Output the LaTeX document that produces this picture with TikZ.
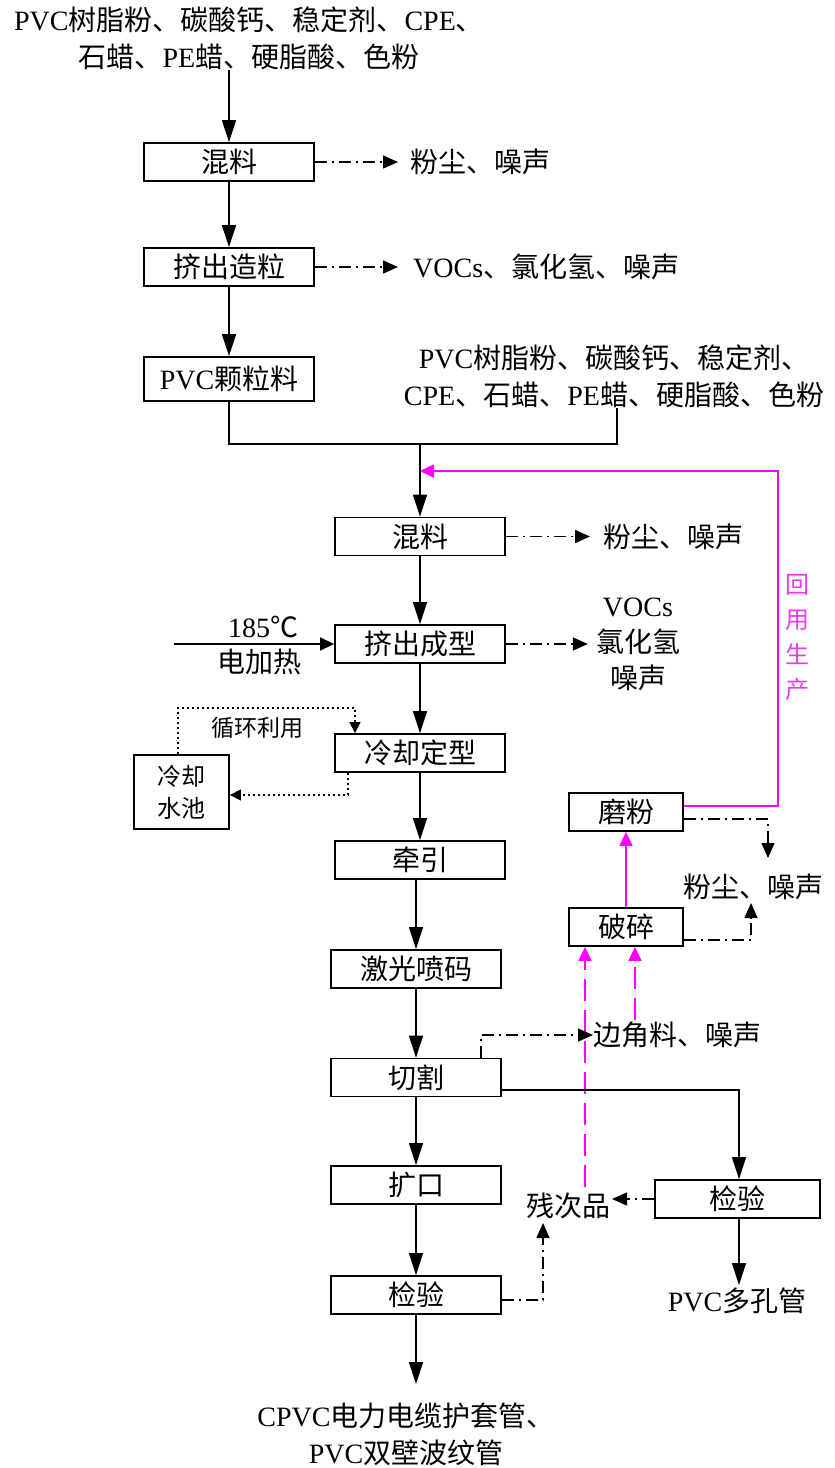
\documentclass[tikz,border=0pt]{standalone}
\usepackage{fontspec}
\setmainfont{Noto Sans CJK SC}
\newfontfamily\tm{Liberation Serif}
\usetikzlibrary{arrows.meta}
\newcommand\lat[1]{{\tm #1}}
\newcommand\fsA{\fontsize{28}{37}\selectfont}
\newcommand\fsB{\fontsize{23}{32}\selectfont}
\definecolor{mag}{RGB}{255,0,255}
\definecolor{magtxt}{RGB}{235,60,235}
\begin{document}
\begin{tikzpicture}[x=1pt,y=-1pt,
 box/.style={draw,line width=1.8pt,minimum width=170pt,minimum height=38pt,inner sep=0pt,font=\fsA},
 txt/.style={inner sep=0pt,font=\fsA,align=center},
 ln/.style={line width=1.5pt},
 flow/.style={ln,-{Triangle[length=22pt,width=14pt]}},
 flows/.style={ln,-{Triangle[length=14pt,width=13pt]}},
 emis/.style={ln,dash pattern=on 12pt off 5pt on 2pt off 5pt,-{Triangle[length=15pt,width=13pt]}},
 cool/.style={line width=1.3pt,dash pattern=on 2.5pt off 2.5pt,-{Triangle[length=11pt,width=11pt]}},
 rec/.style={color=mag,line width=1.6pt,-{Triangle[length=14pt,width=13pt]}},
 recd/.style={rec,dash pattern=on 22pt off 9pt},
]
\fill[white] (0,0) rectangle (835,1468);
\useasboundingbox (0,0) rectangle (835,1468);

% left column
\node[txt] (src1) at (249,38.5) {\lat{PVC}树脂粉、碳酸钙、稳定剂、\lat{CPE}、\\石蜡、\lat{PE}蜡、硬脂酸、色粉};
\node[box] (hl1) at (229,162) {混料};
\node[box] (zl) at (229,267) {挤出造粒};
\node[box,minimum height=44pt] (pvc) at (229,379) {\lat{PVC}颗粒料};
\node[txt] (src2) at (614,376.5) {\lat{PVC}树脂粉、碳酸钙、稳定剂、\\\lat{CPE}、石蜡、\lat{PE}蜡、硬脂酸、色粉};

% main column
\node[box] (hl2) at (420,536.5) {混料};
\node[box] (cx) at (420,644) {挤出成型};
\node[box] (lq) at (420,753) {冷却定型};
\node[box] (qy) at (420,860) {牵引};
\node[box] (jg) at (416,969) {激光喷码};
\node[box] (qg) at (416,1077.5) {切割};
\node[box] (kk) at (416,1185) {扩口};
\node[box] (jy1) at (416,1295) {检验};
\node[txt] (prod) at (406,1434.5) {\lat{CPVC}电力电缆护套管、\\\lat{PVC}双壁波纹管};

% emissions
\node[txt,anchor=west] (e1) at (410,162) {粉尘、噪声};
\node[txt,anchor=west] (e2) at (413,267) {\lat{VOCs}、氯化氢、噪声};
\node[txt,anchor=west] (e3) at (603,536.5) {粉尘、噪声};
\node[txt,font=\fontsize{28}{36}\selectfont] (e4) at (638,644) {\lat{VOCs}\\氯化氢\\噪声};

% heating
\node[txt] (h1) at (263,627) {\lat{185}℃};
\node[txt] (h2) at (259,662) {电加热};
\coordinate (hs) at (174,644);

% cooling pool
\node[draw,line width=1.8pt,minimum width=95pt,minimum height=74pt,inner sep=0pt,align=center,font=\fontsize{24}{32}\selectfont] (pool) at (181.5,792) {冷却\\水池};
\node[txt,font=\fsB] (xh) at (257,728) {循环利用};

% right side
\node[box,minimum width=114pt] (mf) at (626,812) {磨粉};
\node[box,minimum width=114pt] (ps) at (626,927) {破碎};
\node[box,minimum width=165pt] (jy2) at (737.5,1199) {检验};
\node[txt] (e5) at (753,887) {粉尘、噪声};
\node[txt,anchor=west] (e6) at (593,1035) {边角料、噪声};
\node[txt] (cc) at (568,1206) {残次品};
\node[txt] (pk) at (737,1301) {\lat{PVC}多孔管};
\node[txt,text=magtxt,font=\fontsize{24}{35}\selectfont] (hy) at (797,637) {回\\用\\生\\产};

% main flow
\coordinate (t1) at (229,70);
\draw[flow] (t1) -- (hl1.north);
\draw[flow] (hl1.south) -- (zl.north);
\draw[flow] (zl.south) -- (pvc.north);
\coordinate (mj) at (420,444);
\coordinate (m2) at (617,444);
\draw[ln] (pvc.south) |- (m2) -- (m2 |- src2.south);
\draw[flow] (mj) -- (hl2.north);
\draw[flow] (hl2.south) -- (cx.north);
\draw[flows] (hs) -- (cx.west);
\draw[flow] (cx.south) -- (lq.north);
\draw[flow] (lq.south) -- (qy.north);
\draw[flow] (qy.south -| jg.north) -- (jg.north);
\draw[flow] (jg.south) -- (qg.north);
\draw[flow] (qg.south) -- (kk.north);
\draw[flow] (kk.south) -- (jy1.north);
\coordinate (o1) at (416,1384);
\draw[flow] (jy1.south) -- (o1);

% emission arrows
\draw[emis] (hl1.east) -- ([xshift=-12pt]e1.west);
\draw[emis] (zl.east) -- ([xshift=-15pt]e2.west);
\draw[emis] (hl2.east) -- ([xshift=-13pt]e3.west);
\draw[emis] (cx.east) -- ([xshift=-8pt]e4.west);

% cooling loop
\coordinate (c1) at (178,708);
\coordinate (c2) at (355,708);
\coordinate (c3) at (348,795);
\draw[cool] (pool.north -| c1) -- (c1) -- (c2) -- (c2 |- lq.north);
\draw[cool] (lq.south -| c3) -- (c3) -- (c3 -| pool.east);

% recycling
\coordinate (r1) at (778,806);
\coordinate (r2) at (778,471);
\coordinate (rj) at (420,471);
\draw[rec] (mf.east |- r1) -- (r1) -- (r2) -- (rj);
\draw[rec] (ps.north) -- (mf.south);
\coordinate (d1) at (768,819);
\coordinate (d2) at (768,858);
\draw[emis] (mf.east |- d1) -- (d1) -- (d2);
\coordinate (d3) at (751,940);
\coordinate (d4) at (751,903);
\draw[emis] (ps.east |- d3) -- (d3) -- (d4);
\coordinate (g1) at (585,1187);
\coordinate (g2) at (635,1020);
\draw[recd] (g1) -- (g1 |- ps.south);
\draw[recd] (g2) -- (g2 |- ps.south);

% cutting branch
\coordinate (k1) at (481,1035);
\draw[emis] (qg.north -| k1) -- (k1) -- (e6.west);
\coordinate (k2) at (739,1090);
\draw[flow] (qg.east |- k2) -- (k2) -- (k2 |- jy2.north);
\coordinate (k3) at (739,1285);
\draw[flow] (k2 |- jy2.south) -- (k3);
\coordinate (ce) at (612,1199);
\draw[emis] (jy2.west) -- (ce);
\coordinate (b1) at (543,1300);
\coordinate (b2) at (543,1223);
\draw[emis] (jy1.east |- b1) -- (b1) -- (b2);
\end{tikzpicture}
\end{document}
